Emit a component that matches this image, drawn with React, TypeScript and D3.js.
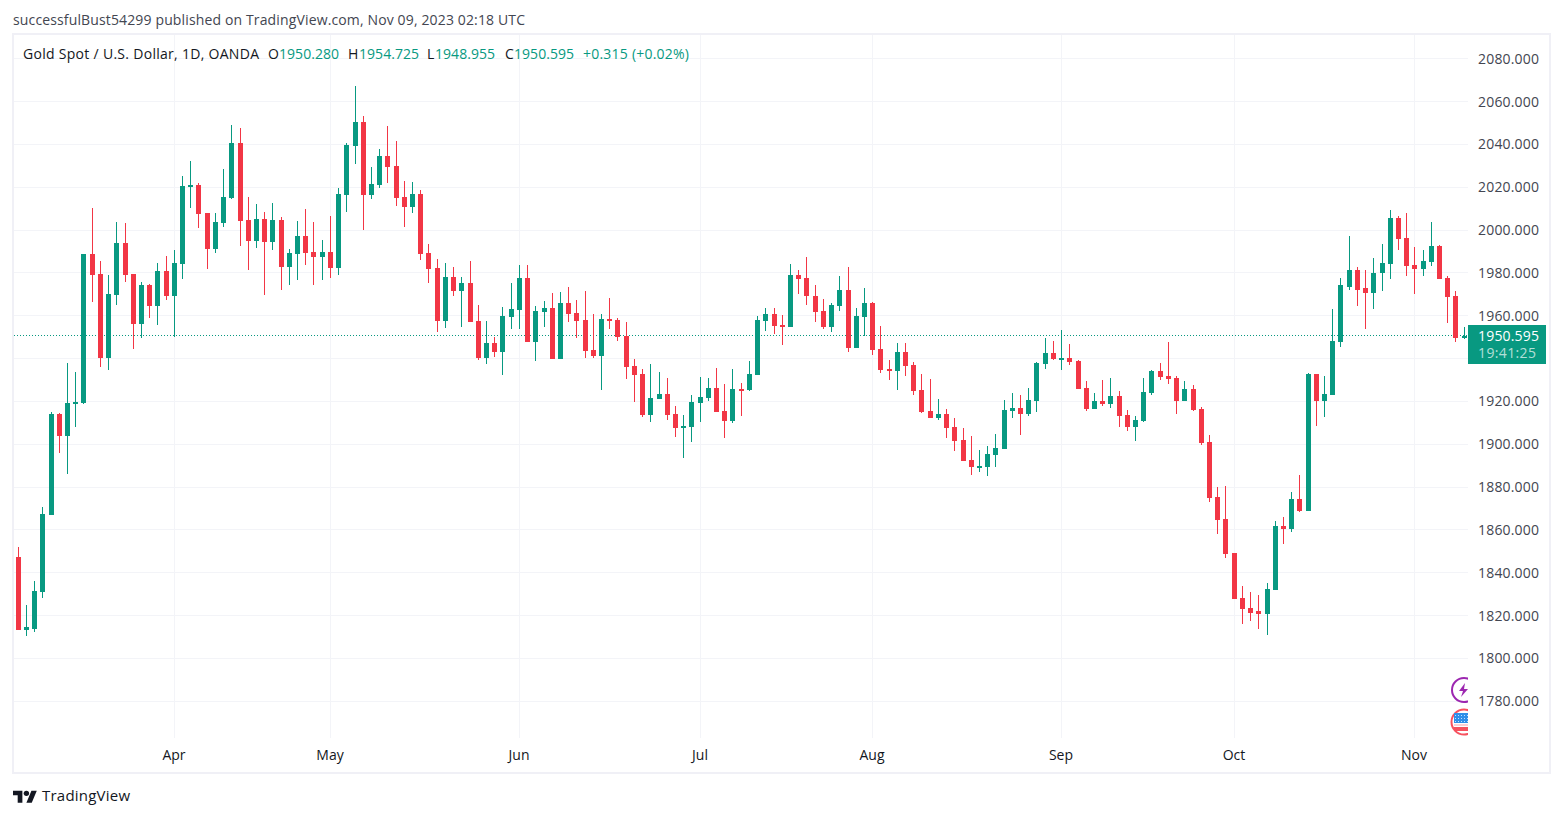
import * as d3 from "d3";

const WIDTH = 1563;
const HEIGHT = 817;
const PLOT = { left: 14, right: 1468, top: 35, bottom: 738 };
const GREEN = "#089981";
const RED = "#f23645";
const GRID = "#f3f4f8";
const FRAME = "#f0f0f6";
const FONT = "'Open Sans', sans-serif";

const opens = [
  1847.4, 1813.4, 1813.9, 1831.1, 1867, 1914.1, 1903.8, 1918.7, 1919.2, 1988.9,
  1979.6, 1940.4, 1969.8, 1994, 1979.6, 1956.3, 1974.4, 1964.6, 1981, 1969.3,
  1984.2, 2020.1, 2021, 2008, 1991.2, 2003.3, 2015, 2040.6, 2004.7, 1994.9,
  2005.2, 1994.5, 2004.7, 1982.8, 1988.9, 1997.3, 1989.8, 1987.5, 1989.8, 1982.4,
  2016.4, 2039.2, 2050.4, 2016.4, 2021, 2034.5, 2029.9, 2015.4, 2010.8, 2016.8,
  1989.3, 1982.4, 1957.7, 1978.2, 1971.6, 1975.4, 1957.7, 1940.4, 1947.4, 1943.2,
  1959.5, 1962.8, 1977.7, 1947.9, 1961.9, 1963.7, 1940, 1966, 1961.4, 1958.1,
  1944.2, 1941.4, 1958.6, 1958.1, 1950.7, 1936.4, 1932.6, 1913.5, 1921, 1923.3,
  1914, 1907.5, 1907.9, 1919.1, 1921.5, 1926.1, 1915.4, 1910.7, 1925.6, 1925.2,
  1932.2, 1957.3, 1960.6, 1955.5, 1954.5, 1978.8, 1977.4, 1969.4, 1962, 1954.5,
  1964.3, 1972.2, 1944.7, 1959.2, 1965.7, 1944.3, 1935, 1934, 1942.9, 1936.8,
  1925.2, 1915.5, 1912.2, 1914.1, 1908, 1902, 1892.6, 1889.4, 1889.4, 1895,
  1897.8, 1915.5, 1916.9, 1914.1, 1920.1, 1937.4, 1942.5, 1939.7, 1940.2, 1938.8,
  1926.2, 1916.4, 1920.1, 1918.7, 1922.5, 1913.6, 1908, 1910.8, 1923.8, 1934.1,
  1931.8, 1930.8, 1920.1, 1925.7, 1916.4, 1901.1, 1875.4, 1865.2, 1849.3, 1828.4,
  1823.7, 1821.9, 1820.5, 1832.1, 1861.9, 1860.5, 1874.5, 1868.9, 1932.7, 1920.2,
  1922.8, 1947.5, 1973.6, 1981.1, 1972.7, 1970.8, 1979.7, 1984.3, 2005.7, 1996.4,
  1983.8, 1982, 1985.2, 1992.7, 1977.8, 1969.4, 1950.28,
];

const highs = [
  1852.1, 1825.1, 1836.3, 1870.7, 1915, 1914.5, 1937.8, 1933.6, 1988.9, 2010.3,
  1985.6, 1979.1, 2003.8, 2003.3, 1979.6, 1975.8, 1974.9, 1984.7, 1987.9, 1990.7,
  2025.2, 2032.2, 2022, 2008, 2008, 2028.5, 2049, 2047.6, 2015.4, 2012.2,
  2008.4, 2012.6, 2006.1, 1991.2, 2004.2, 2009.8, 2003.8, 1995.4, 2006.6, 2019.6,
  2040.6, 2067.1, 2053.2, 2029.4, 2037.8, 2048.5, 2041.5, 2022.9, 2022.4, 2018.7,
  1993.5, 1986.5, 1984.7, 1982.8, 1978.2, 1985.6, 1965.1, 1957.7, 1950.2, 1964.2,
  1975.4, 1983.7, 1983.7, 1964.6, 1967, 1970.7, 1971.2, 1973.5, 1967.4, 1971.6,
  1960.9, 1960.9, 1968.4, 1959, 1957.2, 1939.6, 1935, 1937.3, 1933.6, 1930.8,
  1917.7, 1913.5, 1922.9, 1931.2, 1930.8, 1935.4, 1928, 1935, 1928.4, 1938.7,
  1959.7, 1963.8, 1963.8, 1960.1, 1984.3, 1981.1, 1987.6, 1974.1, 1968, 1965.7,
  1978.3, 1982.5, 1963.8, 1972.7, 1966.2, 1955, 1939.2, 1947.1, 1947.1, 1938.2,
  1932.7, 1930.4, 1921.1, 1916.4, 1912.2, 1907.5, 1903.8, 1897.3, 1899.2, 1904.7,
  1920.6, 1923.8, 1922.9, 1926.2, 1938.3, 1949.5, 1948.1, 1953.2, 1946.7, 1939.2,
  1929.4, 1923.8, 1929.9, 1930.8, 1924.8, 1915.9, 1913.1, 1930.8, 1934.6, 1937.8,
  1947.6, 1931.8, 1929.4, 1927.6, 1917.4, 1904.3, 1880.1, 1880.6, 1849.3, 1834,
  1831.2, 1829.8, 1835.4, 1864.2, 1866.1, 1877.8, 1885.7, 1933.2, 1932.7, 1931.8,
  1962.9, 1977.8, 1997.4, 1982.9, 1981.1, 1987.1, 1993.6, 2009.5, 2006.7, 2008.1,
  1992.2, 1990.8, 2003.9, 1993.2, 1978.3, 1971.3, 1954.725,
];

const lows = [
  1813.4, 1810.2, 1812.5, 1828.3, 1867, 1895.9, 1886.1, 1908, 1918.7, 1966.5,
  1935.8, 1934.8, 1965.1, 1975.8, 1944.6, 1949.7, 1959, 1955.8, 1967.4, 1950.2,
  1977.2, 2010.3, 2001, 1981.9, 1989.3, 2001.5, 2014.5, 1992.6, 1981.4, 1991.7,
  1969.8, 1990.7, 1972.1, 1974.4, 1976.8, 1983.7, 1974.4, 1976.8, 1977.7, 1979.1,
  2008.4, 2030.8, 2000, 2014.5, 2019.6, 2022, 2011.2, 2001.5, 2008, 1986.1,
  1975.4, 1952.5, 1954.4, 1969.3, 1954.9, 1957.2, 1939.5, 1937.2, 1940.9, 1932.5,
  1953.9, 1953.9, 1947.9, 1938.6, 1954.9, 1940, 1940, 1957.2, 1949.7, 1940.4,
  1940.4, 1925.5, 1953.9, 1948.3, 1930.2, 1919.6, 1912.6, 1910.3, 1921, 1911.2,
  1903.3, 1893.5, 1901, 1910.3, 1920, 1914.9, 1902.8, 1909.8, 1913.1, 1924.7,
  1932.2, 1952.7, 1951.3, 1946.1, 1954.5, 1969.9, 1965.2, 1956.9, 1953.6, 1952.2,
  1962, 1942.9, 1944.7, 1950.3, 1941.5, 1933.1, 1929.8, 1925.2, 1931.7, 1922.9,
  1914.5, 1912.2, 1911.3, 1902.9, 1896.8, 1892.2, 1885.6, 1887, 1885.2, 1889.4,
  1897.8, 1912.2, 1904.3, 1913.1, 1915, 1935, 1939.2, 1934.6, 1936.9, 1925.7,
  1915.5, 1916.4, 1917.8, 1916.9, 1908, 1906.1, 1901.5, 1910.3, 1922.9, 1929.9,
  1928, 1914.1, 1920.1, 1915.5, 1899.7, 1873.1, 1858.2, 1847, 1827.9, 1815.8,
  1817.2, 1813.5, 1811.1, 1832.1, 1853.5, 1859.1, 1868.4, 1868.9, 1908.5, 1912.7,
  1922.8, 1945.2, 1972.2, 1964.3, 1953.6, 1962.9, 1971.7, 1976.9, 1990.8, 1978.7,
  1969.9, 1978.7, 1983.4, 1977.3, 1956.8, 1947.5, 1948.955,
];

const closes = [
  1813.4, 1814.4, 1831.6, 1867.5, 1914.1, 1903.8, 1919.2, 1919.7, 1988.9, 1979.1,
  1940.4, 1970.2, 1994, 1979.1, 1956.3, 1974.4, 1964.6, 1981, 1969.3, 1984.7,
  2020.6, 2021, 2007.5, 1991.2, 2003.8, 2015.4, 2040.6, 2004.2, 1994.9, 2005.2,
  1994.5, 2004.7, 1982.8, 1989.3, 1997.3, 1989.3, 1987.5, 1989.8, 1982.4, 2016.8,
  2039.7, 2050.4, 2016.4, 2021.5, 2034.5, 2029.4, 2015, 2010.8, 2016.8, 1988.9,
  1981.9, 1957.7, 1978.2, 1971.6, 1975.4, 1957.2, 1940.4, 1947.4, 1943.2, 1960,
  1963.2, 1977.7, 1947.9, 1962.3, 1963.7, 1940, 1966, 1960.9, 1957.7, 1943.7,
  1941.4, 1958.6, 1957.7, 1950.2, 1936.2, 1932.2, 1913.5, 1921.5, 1923.3, 1913.5,
  1907.5, 1908.4, 1919.6, 1921.9, 1926.1, 1914.9, 1910.7, 1925.6, 1925.2, 1932.6,
  1957.8, 1960.6, 1955, 1954.5, 1978.8, 1976.9, 1969, 1961.5, 1954.5, 1964.8,
  1972.2, 1944.7, 1959.7, 1965.7, 1943.8, 1934.5, 1934, 1942.9, 1936.4, 1924.7,
  1915, 1912.2, 1914.1, 1907.5, 1901.5, 1892.2, 1889.4, 1889.8, 1895.4, 1898.2,
  1915.9, 1916.9, 1914.1, 1920.6, 1937.8, 1942.5, 1939.7, 1940.2, 1938.3, 1925.7,
  1916.4, 1920.1, 1918.7, 1922.5, 1913.1, 1908, 1911.3, 1924.3, 1934.1, 1931.3,
  1930.4, 1920.1, 1925.7, 1915.9, 1900.6, 1875, 1864.7, 1848.9, 1827.9, 1823.2,
  1821.4, 1820.5, 1832.6, 1861.9, 1860.5, 1874.5, 1868.9, 1932.7, 1920.2, 1923.4,
  1948, 1974.1, 1981.1, 1972.2, 1970.8, 1980.1, 1984.8, 2005.7, 1996, 1983.4,
  1982, 1985.7, 1992.7, 1977.3, 1968.9, 1949.8, 1950.595,
];

const priceTicks = [2080, 2060, 2040, 2020, 2000, 1980, 1960, 1940, 1920, 1900, 1880, 1860, 1840, 1820, 1800, 1780];
const hiddenPriceLabel = 1940;
const monthLabels = ["Apr", "May", "Jun", "Jul", "Aug", "Sep", "Oct", "Nov"];
const monthCandle = [19, 38, 61, 83, 104, 127, 148, 170];

const headerText = "successfulBust54299 published on TradingView.com, Nov 09, 2023 02:18 UTC";
const symbolText = "Gold Spot / U.S. Dollar, 1D, OANDA";
const lastPriceText = "1950.595";
const countdownText = "19:41:25";
const legendKeys = ["O", "H", "L", "C"];
const legendNumbers = ["1950.280", "1954.725", "1948.955", "1950.595"];
const changeText = "+0.315 (+0.02%)";

// where each legend item sits, [key x, value x]
const legendX = [[268, 279], [348, 359], [427, 435], [505, 514]];

const xScale = d3.scaleLinear().domain([0, opens.length - 1]).range([18.2, 1464.2]);
const yScale = d3.scaleLinear().domain([2060, 1820]).range([101.5, 615.5]);

const px = (i: number) => Math.floor(xScale(i));

const App = () => {
  const lastClose = closes[closes.length - 1];
  const lastY = Math.round(yScale(lastClose) - 0.5);

  return (
    <svg
      width={WIDTH}
      height={HEIGHT}
      style={{ position: "absolute", left: 0, top: 0, display: "block", background: "#fff" }}
      fontFamily={FONT}
    >
      <defs>
        <clipPath id="pane">
          <rect x={PLOT.left} y={PLOT.top} width={PLOT.right - PLOT.left} height={PLOT.bottom - PLOT.top} />
        </clipPath>
      </defs>

      {/* Frame */}
      <rect x={13} y={34} width={1537} height={739} fill="none" stroke={FRAME} strokeWidth={2} />

      {/* Grid */}
      <g shapeRendering="crispEdges" stroke={GRID}>
        {priceTicks.map((t) => (
          <line key={t} x1={PLOT.left} x2={PLOT.right} y1={Math.floor(yScale(t)) + 0.5} y2={Math.floor(yScale(t)) + 0.5} />
        ))}
        {monthCandle.map((c) => (
          <line key={c} x1={px(c) + 0.5} x2={px(c) + 0.5} y1={PLOT.top} y2={PLOT.bottom} />
        ))}
      </g>

      {/* Last price line */}
      <line
        x1={PLOT.left}
        x2={PLOT.right}
        y1={lastY + 0.5}
        y2={lastY + 0.5}
        stroke={GREEN}
        strokeWidth={1}
        strokeDasharray="1 2"
        shapeRendering="crispEdges"
      />

      {/* Candles */}
      <g shapeRendering="crispEdges">
        {opens.map((open, i) => {
          const close = closes[i];
          const color = close >= open ? GREEN : RED;
          const x = px(i);
          const top = Math.round(yScale(Math.max(open, close)));
          const bottom = Math.round(yScale(Math.min(open, close)));
          const wickTop = Math.round(yScale(highs[i]));
          const wickBottom = Math.round(yScale(lows[i]));
          return (
            <g key={i} fill={color}>
              <rect x={x} y={wickTop} width={1} height={Math.max(wickBottom - wickTop, 1)} />
              <rect x={x - 2} y={top} width={5} height={Math.max(bottom - top, 2)} />
            </g>
          );
        })}
      </g>

      {/* Event icons, cut off by the price scale */}
      <g clipPath="url(#pane)">
        <circle cx={1464} cy={690} r={12} fill="#fff" stroke="#9c27b0" strokeWidth={2} />
        <path d="M1465 683 L1459 691 L1463 691 L1461 697 L1468 689 L1464 689 Z" fill="#9c27b0" />
        <circle cx={1464} cy={722} r={12.5} fill="#fff" stroke="#f7525f" strokeWidth={2} />
        <rect x={1454} y={713} width={14} height={10} fill="#2f8fe8" />
        <g stroke="#bfe0ff" strokeWidth={1} strokeDasharray="1 2">
          <line x1={1455} x2={1468} y1={715.5} y2={715.5} />
          <line x1={1455} x2={1468} y1={718.5} y2={718.5} />
          <line x1={1455} x2={1468} y1={721.5} y2={721.5} />
        </g>
        <rect x={1454} y={724} width={14} height={2} fill="#fbd0d4" />
        <rect x={1454} y={727} width={14} height={4} fill="#f7525f" />
      </g>

      {/* Header and legend */}
      <text x={13} y={25} fontSize={14} fill="#434651" textLength={512}>{headerText}</text>
      <text x={23} y={59} fontSize={14} fill="#131722" textLength={236}>{symbolText}</text>
      {legendKeys.map((k, i) => (
        <g key={k}>
          <text x={legendX[i][0]} y={59} fontSize={14} fill="#131722">{k}</text>
          <text x={legendX[i][1]} y={59} fontSize={14} fill={GREEN} textLength={60}>{legendNumbers[i]}</text>
        </g>
      ))}
      <text x={583} y={59} fontSize={14} fill={GREEN} textLength={106}>{changeText}</text>

      {/* Price axis */}
      {priceTicks.filter((t) => t !== hiddenPriceLabel).map((t) => (
        <text key={t} x={1478} y={Math.round(yScale(t)) + 5} fontSize={14} fill="#434651" textLength={61}>
          {d3.format(".3f")(t)}
        </text>
      ))}

      {/* Last price label */}
      <rect x={1468} y={325} width={78} height={39} fill={GREEN} />
      <text x={1478} y={341} fontSize={14} fill="#fff" textLength={61}>{lastPriceText}</text>
      <text x={1478} y={358} fontSize={14} fill="#fff" fillOpacity={0.7} textLength={58}>{countdownText}</text>

      {/* Time axis */}
      {monthLabels.map((m, i) => (
        <text key={m} x={px(monthCandle[i])} y={760} textAnchor="middle" fontSize={14} fontWeight={500} fill="#131722">{m}</text>
      ))}

      {/* Logo */}
      <g transform="translate(13 788) scale(0.67)" fill="#131722">
        <path d="M14 22H7V11H0V4h14v18zM28 22h-8l7.5-18h8L28 22z" />
        <circle cx={20} cy={8} r={4} />
      </g>
      <text x={42} y={801} fontSize={15} fill="#131722" textLength={88}>TradingView</text>
    </svg>
  );
};

export default App;
